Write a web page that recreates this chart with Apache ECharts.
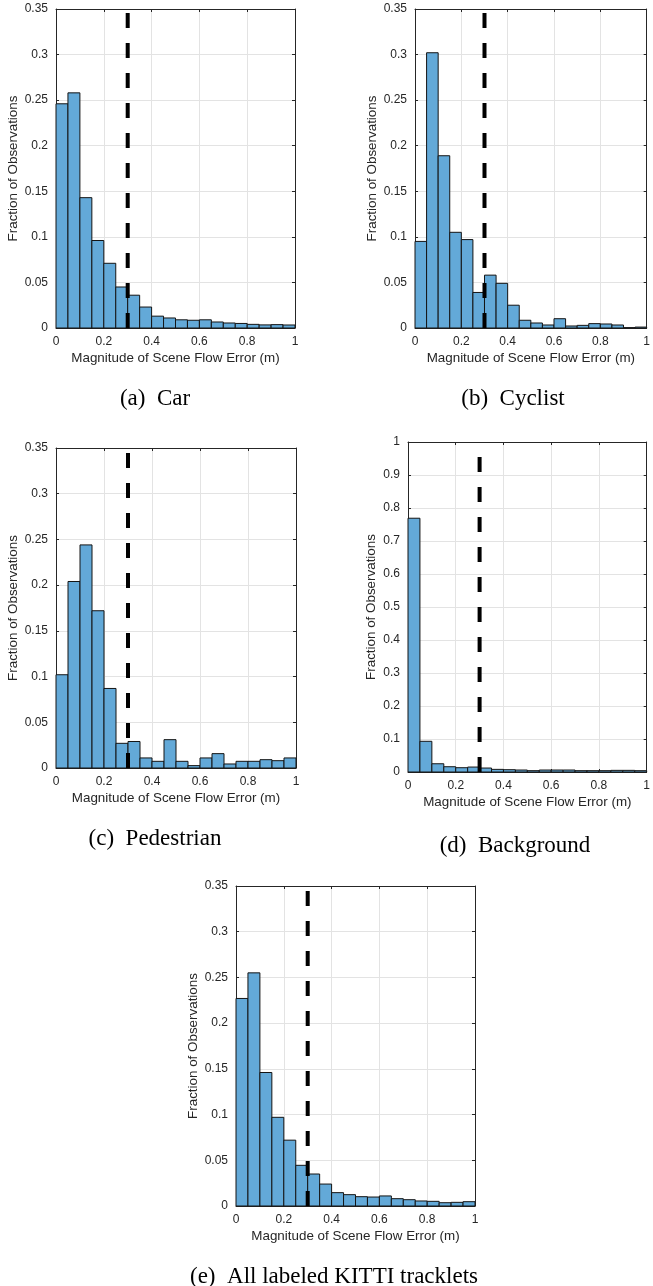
<!DOCTYPE html>
<html>
<head>
<meta charset="utf-8">
<script src="https://cdn.jsdelivr.net/npm/echarts@6/dist/echarts.min.js"></script>
<style>
  body { margin: 0; background: #fff; }
  #chart { width: 653px; height: 1286px; }
</style>
</head>
<body>
<div id="chart"></div>
<script>
// histogram bins (m)
var binEdges = [0, 0.05, 0.1, 0.15, 0.2, 0.25, 0.3, 0.35, 0.4, 0.45, 0.5,
                0.55, 0.6, 0.65, 0.7, 0.75, 0.8, 0.85, 0.9, 0.95, 1];

var carValues = [0.246, 0.258, 0.143, 0.096, 0.071, 0.045, 0.036, 0.023, 0.013, 0.011,
                 0.009, 0.0085, 0.009, 0.0066, 0.0055, 0.005, 0.004, 0.0034, 0.0037, 0.0033];
var cyclistValues = [0.095, 0.302, 0.189, 0.105, 0.097, 0.039, 0.058, 0.049, 0.025, 0.0085,
                     0.0055, 0.0033, 0.0102, 0.0022, 0.0029, 0.0048, 0.0044, 0.0033, 0.0004, 0.001];
var pedestrianValues = [0.102, 0.204, 0.244, 0.172, 0.087, 0.027, 0.029, 0.011, 0.0073, 0.031,
                        0.0073, 0.0026, 0.011, 0.0157, 0.0044, 0.0073, 0.0073, 0.0091, 0.008, 0.011];
var backgroundValues = [0.769, 0.093, 0.025, 0.016, 0.013, 0.015, 0.012, 0.008, 0.007, 0.006,
                        0.004, 0.006, 0.006, 0.006, 0.004, 0.004, 0.004, 0.005, 0.005, 0.004];
var allValues = [0.227, 0.255, 0.146, 0.097, 0.072, 0.0445, 0.035, 0.024, 0.0146, 0.0124,
                 0.0102, 0.0098, 0.011, 0.008, 0.0069, 0.0055, 0.0051, 0.0036, 0.004, 0.0047];

var threshold = 0.3;
var captions = ['(a)\u2002Car', '(b)\u2002Cyclist', '(c)\u2002Pedestrian', '(d)\u2002Background', '(e)\u2002All labeled KITTI tracklets'];
var xLabel = 'Magnitude of Scene Flow Error (m)';
var yLabel = 'Fraction of Observations';

// layout of each subplot (pixels)
var panels = [
  { values: carValues,        left: 56,  top: 9,   width: 239, height: 319, ymax: 0.35, step: 0.05, cx: 150, cy: 382 },
  { values: cyclistValues,    left: 415, top: 9,   width: 239, height: 319, ymax: 0.35, step: 0.05, cx: 508, cy: 382 },
  { values: pedestrianValues, left: 56,  top: 448, width: 240, height: 320, ymax: 0.35, step: 0.05, cx: 150, cy: 822 },
  { values: backgroundValues, left: 408, top: 442, width: 248, height: 330, ymax: 1,    step: 0.1,  cx: 510, cy: 829 },
  { values: allValues,        left: 236, top: 886, width: 239, height: 320, ymax: 0.35, step: 0.05, cx: 329, cy: 1260 }
];

var axisColor = '#262626';
var font = 'Liberation Sans, Arial, sans-serif';

function renderBar(params, api) {
  var p0 = api.coord([api.value(0), api.value(2)]);
  var p1 = api.coord([api.value(1), 0]);
  return {
    type: 'rect',
    shape: { x: p0[0], y: p0[1], width: p1[0] - p0[0], height: p1[1] - p0[1] },
    style: { fill: '#63a9d8', stroke: '#141414', lineWidth: 1 }
  };
}

// matlab-like box: line + inward ticks on all four sides
var boxLine = { show: true, onZero: false, lineStyle: { color: axisColor, width: 1 } };
var boxTick = { show: true, inside: true, length: 3, lineStyle: { color: axisColor } };
var gridLine = { show: true, lineStyle: { color: '#e3e3e3', width: 1 } };

var grids = [], xAxes = [], yAxes = [], series = [], titles = [];

panels.forEach(function (p, i) {
  grids.push({ left: p.left, top: p.top, width: p.width, height: p.height, containLabel: false });

  xAxes.push({
    type: 'value', gridIndex: i, min: 0, max: 1, interval: 0.2, position: 'bottom',
    name: xLabel, nameLocation: 'middle', nameGap: 24,
    nameTextStyle: { color: axisColor, fontSize: 13.4, fontFamily: font },
    axisLine: boxLine, axisTick: boxTick, splitLine: gridLine,
    axisLabel: { color: axisColor, fontSize: 12, fontFamily: font, margin: 8 }
  });
  xAxes.push({
    type: 'value', gridIndex: i, min: 0, max: 1, interval: 0.2, position: 'top',
    axisLine: boxLine, axisTick: boxTick,
    axisLabel: { show: false }, splitLine: { show: false }
  });
  yAxes.push({
    type: 'value', gridIndex: i, min: 0, max: p.ymax, interval: p.step, position: 'left',
    name: yLabel, nameLocation: 'middle', nameGap: p.ymax === 1 ? 30 : 36,
    nameTextStyle: { color: axisColor, fontSize: 13.4, fontFamily: font },
    axisLine: boxLine, axisTick: boxTick, splitLine: gridLine,
    axisLabel: { color: axisColor, fontSize: 12, fontFamily: font, margin: 8 }
  });
  yAxes.push({
    type: 'value', gridIndex: i, min: 0, max: p.ymax, interval: p.step, position: 'right',
    axisLine: boxLine, axisTick: boxTick,
    axisLabel: { show: false }, splitLine: { show: false }
  });

  var barData = p.values.map(function (v, k) {
    return [binEdges[k], binEdges[k + 1], v];
  });
  series.push({
    type: 'custom', xAxisIndex: 2 * i, yAxisIndex: 2 * i,
    renderItem: renderBar, encode: { x: [0, 1], y: 2 }, data: barData, z: 2
  });
  series.push({
    type: 'line', xAxisIndex: 2 * i, yAxisIndex: 2 * i, symbol: 'none', z: 5,
    lineStyle: { color: '#000', width: 4, type: [15, 15], cap: 'butt' },
    data: [[threshold, 0], [threshold, p.ymax]]
  });

  titles.push({
    text: captions[i], left: p.cx, top: p.cy, textAlign: 'center',
    textStyle: { fontFamily: 'Liberation Serif, Times New Roman, serif', fontSize: 23, fontWeight: 'normal', color: '#000' }
  });
});

var myChart = echarts.init(document.getElementById('chart'));
myChart.setOption({
  animation: false,
  backgroundColor: '#fff',
  title: titles,
  grid: grids,
  xAxis: xAxes,
  yAxis: yAxes,
  series: series
});
</script>
</body>
</html>
